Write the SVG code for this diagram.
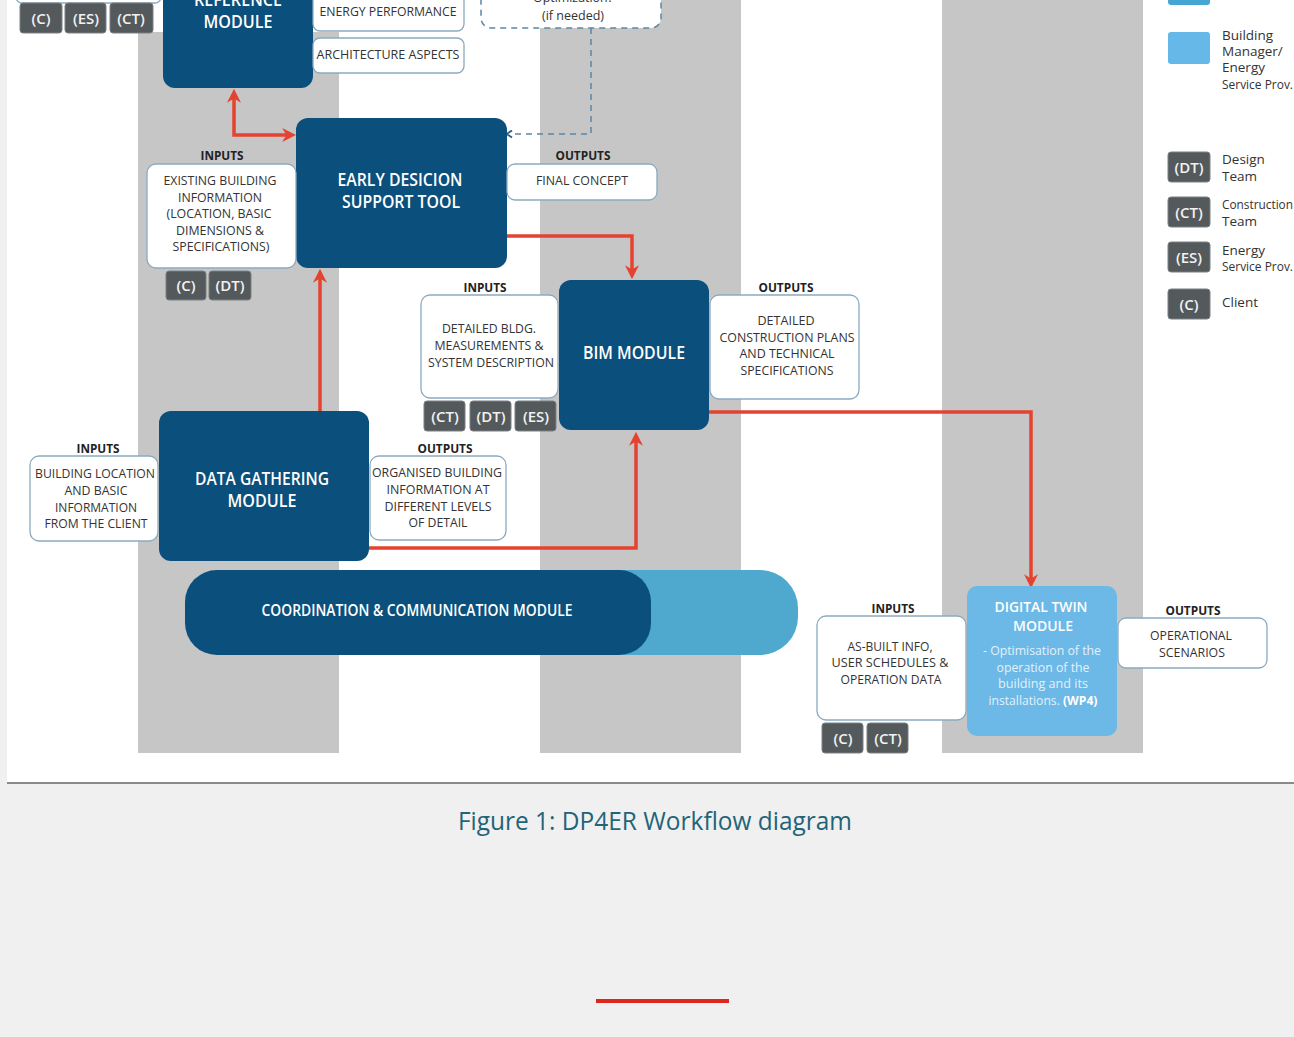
<svg xmlns="http://www.w3.org/2000/svg" width="1294" height="1037" viewBox="0 0 1294 1037">
<style>
.t{font-family:"Open Sans","Liberation Sans",sans-serif;}
.mod{font-family:"Open Sans","Liberation Sans",sans-serif;font-weight:600;fill:#ffffff;text-anchor:middle;}
.bx{fill:#ffffff;stroke:#8aaabf;stroke-width:1.3;}
.bt{font-family:"Open Sans","Liberation Sans",sans-serif;font-size:12.5px;fill:#333333;text-anchor:middle;}
.lab{font-family:"Open Sans","Liberation Sans",sans-serif;font-size:13px;font-weight:700;fill:#222222;text-anchor:middle;}
.bd{fill:#54595c;stroke:#7b8184;stroke-width:1;}
.bdt{font-family:"Open Sans","Liberation Sans",sans-serif;font-size:15px;font-weight:600;fill:#f2f2f2;text-anchor:middle;}
.dark{fill:#0b4f7c;}
.leg{font-family:"Open Sans","Liberation Sans",sans-serif;font-size:13.5px;fill:#333333;}
.red{fill:none;stroke:#e5432f;stroke-width:3.5;}
.stripe{fill:#c6c6c6;}
</style>
<defs>
<marker id="ar" viewBox="0 0 10 10" refX="7" refY="5" markerWidth="4" markerHeight="4" orient="auto-start-reverse">
<path d="M0,0 L10,5 L0,10 L3,5 z" fill="#e5432f"/>
</marker>
<marker id="dar" viewBox="0 0 10 10" refX="2" refY="5" markerWidth="6" markerHeight="6" orient="auto">
<path d="M2,1 L8,5 L2,9" fill="none" stroke="#2c5d84" stroke-width="2"/>
</marker>
</defs>
<rect x="0" y="0" width="1294" height="1037" fill="#f0f0f0"/>
<rect x="7" y="0" width="1287" height="783" fill="#ffffff"/>
<rect x="7" y="782" width="1287" height="2" fill="#8a8a8a"/>
<g id="stripes">
<rect class="stripe" x="138" y="32" width="201" height="721"/>
<rect class="stripe" x="540" y="0" width="201" height="753"/>
<rect class="stripe" x="942" y="0" width="201" height="753"/>
</g>
<g id="top-left-box"><rect class="bx" x="16" y="-20" width="145" height="23" rx="6"/></g>
<g id="badges-top">
<rect class="bd" x="20" y="3" width="42" height="30" rx="3"/><text class="bdt" x="41" y="24">(C)</text>
<rect class="bd" x="65" y="3" width="41" height="30" rx="3"/><text class="bdt" x="86" y="24">(ES)</text>
<rect class="bd" x="110" y="3" width="43" height="30" rx="3"/><text class="bdt" x="131" y="24">(CT)</text>
</g>
<g id="connectors">
<path class="red" d="M234 93 V135 H292" marker-start="url(#ar)" marker-end="url(#ar)"/>
<path class="red" d="M507 236 H632 V275" marker-end="url(#ar)"/>
<path class="red" d="M320 411 V273" marker-end="url(#ar)"/>
<path class="red" d="M369 548 H636 V436" marker-end="url(#ar)"/>
<path class="red" d="M709 412 H1031 V584" marker-end="url(#ar)"/>
<path d="M591 28 V134 H512" fill="none" stroke="#5a86a6" stroke-width="1.5" stroke-dasharray="6 5" marker-end="url(#dar)"/>
</g>
<g id="reference-module">
<rect class="dark" x="163" y="-62" width="150" height="150" rx="12"/>
<text class="mod" x="238" y="6" font-size="18" textLength="88" lengthAdjust="spacingAndGlyphs">REFERENCE</text>
<text class="mod" x="238" y="28" font-size="18" textLength="69" lengthAdjust="spacingAndGlyphs">MODULE</text>
</g>
<g id="energy-performance">
<rect class="bx" x="313" y="-10" width="151" height="41" rx="7"/>
<text class="bt" x="388" y="16" textLength="137" lengthAdjust="spacingAndGlyphs">ENERGY PERFORMANCE</text>
</g>
<g id="architecture-aspects">
<rect class="bx" x="313" y="38" width="151" height="35" rx="7"/>
<text class="bt" x="388" y="59" textLength="143" lengthAdjust="spacingAndGlyphs">ARCHITECTURE ASPECTS</text>
</g>
<g id="optimization">
<rect x="481" y="-30" width="180" height="58" rx="10" fill="#ffffff" stroke="#5a86a6" stroke-width="1.5" stroke-dasharray="6 5"/>
<text class="bt" x="573" y="2" textLength="80" lengthAdjust="spacingAndGlyphs">Optimization?</text>
<text class="bt" x="573" y="20" textLength="62" lengthAdjust="spacingAndGlyphs">(if needed)</text>
</g>
<g id="early-decision">
<rect class="dark" x="296" y="118" width="211" height="150" rx="12"/>
<text class="mod" x="400" y="186" font-size="18" textLength="125" lengthAdjust="spacingAndGlyphs">EARLY DESICION</text>
<text class="mod" x="401" y="208" font-size="18" textLength="118" lengthAdjust="spacingAndGlyphs">SUPPORT TOOL</text>
</g>
<g id="early-inputs">
<text class="lab" x="222" y="160" textLength="43" lengthAdjust="spacingAndGlyphs">INPUTS</text>
<rect class="bx" x="147" y="164" width="149" height="104" rx="9"/>
<text class="bt" x="220" y="185" textLength="113" lengthAdjust="spacingAndGlyphs">EXISTING BUILDING</text>
<text class="bt" x="220" y="202" textLength="84" lengthAdjust="spacingAndGlyphs">INFORMATION</text>
<text class="bt" x="219" y="218" textLength="105" lengthAdjust="spacingAndGlyphs">(LOCATION, BASIC</text>
<text class="bt" x="220" y="235" textLength="88" lengthAdjust="spacingAndGlyphs">DIMENSIONS &amp;</text>
<text class="bt" x="221" y="251" textLength="97" lengthAdjust="spacingAndGlyphs">SPECIFICATIONS)</text>
<rect class="bd" x="166" y="271" width="40" height="29" rx="3"/><text class="bdt" x="186" y="291">(C)</text>
<rect class="bd" x="209" y="271" width="42" height="29" rx="3"/><text class="bdt" x="230" y="291">(DT)</text>
</g>
<g id="early-outputs">
<text class="lab" x="583" y="160" textLength="55" lengthAdjust="spacingAndGlyphs">OUTPUTS</text>
<rect class="bx" x="507" y="164" width="150" height="36" rx="8"/>
<text class="bt" x="582" y="185" textLength="92" lengthAdjust="spacingAndGlyphs">FINAL CONCEPT</text>
</g>
<g id="bim-module">
<rect class="dark" x="559" y="280" width="150" height="150" rx="12"/>
<text class="mod" x="634" y="359" font-size="18" textLength="102" lengthAdjust="spacingAndGlyphs">BIM MODULE</text>
</g>
<g id="bim-inputs">
<text class="lab" x="485" y="292" textLength="43" lengthAdjust="spacingAndGlyphs">INPUTS</text>
<rect class="bx" x="421" y="295" width="137" height="103" rx="9"/>
<text class="bt" x="489" y="333" textLength="94" lengthAdjust="spacingAndGlyphs">DETAILED BLDG.</text>
<text class="bt" x="489" y="350" textLength="109" lengthAdjust="spacingAndGlyphs">MEASUREMENTS &amp;</text>
<text class="bt" x="491" y="367" textLength="126" lengthAdjust="spacingAndGlyphs">SYSTEM DESCRIPTION</text>
<rect class="bd" x="424" y="401" width="41" height="30" rx="3"/><text class="bdt" x="445" y="422">(CT)</text>
<rect class="bd" x="470" y="401" width="41" height="30" rx="3"/><text class="bdt" x="491" y="422">(DT)</text>
<rect class="bd" x="515" y="401" width="41" height="30" rx="3"/><text class="bdt" x="536" y="422">(ES)</text>
</g>
<g id="bim-outputs">
<text class="lab" x="786" y="292" textLength="55" lengthAdjust="spacingAndGlyphs">OUTPUTS</text>
<rect class="bx" x="710" y="295" width="149" height="104" rx="9"/>
<text class="bt" x="786" y="325" textLength="57" lengthAdjust="spacingAndGlyphs">DETAILED</text>
<text class="bt" x="787" y="342" textLength="135" lengthAdjust="spacingAndGlyphs">CONSTRUCTION PLANS</text>
<text class="bt" x="787" y="358" textLength="95" lengthAdjust="spacingAndGlyphs">AND TECHNICAL</text>
<text class="bt" x="787" y="375" textLength="93" lengthAdjust="spacingAndGlyphs">SPECIFICATIONS</text>
</g>
<g id="data-gathering">
<rect class="dark" x="159" y="411" width="210" height="150" rx="12"/>
<text class="mod" x="262" y="485" font-size="18" textLength="134" lengthAdjust="spacingAndGlyphs">DATA GATHERING</text>
<text class="mod" x="262" y="507" font-size="18" textLength="69" lengthAdjust="spacingAndGlyphs">MODULE</text>
</g>
<g id="data-inputs">
<text class="lab" x="98" y="453" textLength="43" lengthAdjust="spacingAndGlyphs">INPUTS</text>
<rect class="bx" x="30" y="456" width="128" height="85" rx="9"/>
<text class="bt" x="95" y="478" textLength="120" lengthAdjust="spacingAndGlyphs">BUILDING LOCATION</text>
<text class="bt" x="96" y="495" textLength="63" lengthAdjust="spacingAndGlyphs">AND BASIC</text>
<text class="bt" x="96" y="512" textLength="82" lengthAdjust="spacingAndGlyphs">INFORMATION</text>
<text class="bt" x="96" y="528" textLength="103" lengthAdjust="spacingAndGlyphs">FROM THE CLIENT</text>
</g>
<g id="data-outputs">
<text class="lab" x="445" y="453" textLength="55" lengthAdjust="spacingAndGlyphs">OUTPUTS</text>
<rect class="bx" x="370" y="456" width="136" height="84" rx="9"/>
<text class="bt" x="437" y="477" textLength="130" lengthAdjust="spacingAndGlyphs">ORGANISED BUILDING</text>
<text class="bt" x="438" y="494" textLength="103" lengthAdjust="spacingAndGlyphs">INFORMATION  AT</text>
<text class="bt" x="438" y="511" textLength="107" lengthAdjust="spacingAndGlyphs">DIFFERENT LEVELS</text>
<text class="bt" x="438" y="527" textLength="59" lengthAdjust="spacingAndGlyphs">OF DETAIL</text>
</g>
<g id="coordination-module">
<rect x="185" y="570" width="613" height="85" rx="38" fill="#4fa9cf"/>
<rect class="dark" x="185" y="570" width="466" height="85" rx="32"/>
<text class="mod" x="417" y="616" font-size="15.5" textLength="311" lengthAdjust="spacingAndGlyphs">COORDINATION &amp; COMMUNICATION MODULE</text>
</g>
<g id="digital-twin">
<rect x="967" y="586" width="150" height="150" rx="10" fill="#6cb8e6"/>
<text class="mod" x="1041" y="612" font-size="15" fill="#eef6fc" textLength="93" lengthAdjust="spacingAndGlyphs">DIGITAL TWIN</text>
<text class="mod" x="1043" y="631" font-size="15" textLength="60" lengthAdjust="spacingAndGlyphs">MODULE</text>
<text class="t" x="1042" y="655" font-size="12.5" fill="#e3f1fb" text-anchor="middle" textLength="118" lengthAdjust="spacingAndGlyphs">- Optimisation of the</text>
<text class="t" x="1043" y="672" font-size="12.5" fill="#e3f1fb" text-anchor="middle" textLength="93" lengthAdjust="spacingAndGlyphs">operation of the</text>
<text class="t" x="1043" y="688" font-size="12.5" fill="#e3f1fb" text-anchor="middle" textLength="90" lengthAdjust="spacingAndGlyphs">building and its</text>
<text class="t" x="1043" y="705" font-size="12.5" fill="#e3f1fb" text-anchor="middle" textLength="109" lengthAdjust="spacingAndGlyphs">installations. <tspan font-weight="700" fill="#ffffff">(WP4)</tspan></text>
</g>
<g id="dt-inputs">
<text class="lab" x="893" y="613" textLength="43" lengthAdjust="spacingAndGlyphs">INPUTS</text>
<rect class="bx" x="817" y="616" width="149" height="104" rx="9"/>
<text class="bt" x="890" y="651" textLength="85" lengthAdjust="spacingAndGlyphs">AS-BUILT INFO,</text>
<text class="bt" x="890" y="667" textLength="117" lengthAdjust="spacingAndGlyphs">USER  SCHEDULES &amp;</text>
<text class="bt" x="891" y="684" textLength="101" lengthAdjust="spacingAndGlyphs">OPERATION DATA</text>
<rect class="bd" x="822" y="723" width="41" height="30" rx="3"/><text class="bdt" x="843" y="744">(C)</text>
<rect class="bd" x="867" y="723" width="41" height="30" rx="3"/><text class="bdt" x="888" y="744">(CT)</text>
</g>
<g id="dt-outputs">
<text class="lab" x="1193" y="615" textLength="55" lengthAdjust="spacingAndGlyphs">OUTPUTS</text>
<rect class="bx" x="1118" y="618" width="149" height="50" rx="8"/>
<text class="bt" x="1191" y="640" textLength="82" lengthAdjust="spacingAndGlyphs">OPERATIONAL</text>
<text class="bt" x="1192" y="657" textLength="66" lengthAdjust="spacingAndGlyphs">SCENARIOS</text>
</g>
<g id="legend">
<rect x="1168" y="-25" width="42" height="30" rx="3" fill="#45a6d4"/>
<rect x="1168" y="32" width="42" height="32" rx="3" fill="#66b8e8"/>
<text class="leg" x="1222" y="40">Building</text>
<text class="leg" x="1222" y="56">Manager/</text>
<text class="leg" x="1222" y="72">Energy</text>
<text class="leg" x="1222" y="89" textLength="71" lengthAdjust="spacingAndGlyphs">Service Prov.</text>
<rect class="bd" x="1168" y="152" width="42" height="30" rx="3"/><text class="bdt" x="1189" y="173">(DT)</text>
<text class="leg" x="1222" y="164">Design</text>
<text class="leg" x="1222" y="181">Team</text>
<rect class="bd" x="1168" y="197" width="42" height="30" rx="3"/><text class="bdt" x="1189" y="218">(CT)</text>
<text class="leg" x="1222" y="209" textLength="71" lengthAdjust="spacingAndGlyphs">Construction</text>
<text class="leg" x="1222" y="226">Team</text>
<rect class="bd" x="1168" y="242" width="42" height="30" rx="3"/><text class="bdt" x="1189" y="263">(ES)</text>
<text class="leg" x="1222" y="255">Energy</text>
<text class="leg" x="1222" y="271" textLength="71" lengthAdjust="spacingAndGlyphs">Service Prov.</text>
<rect class="bd" x="1168" y="289" width="42" height="30" rx="3"/><text class="bdt" x="1189" y="310">(C)</text>
<text class="leg" x="1222" y="307">Client</text>
</g>
<text class="t" x="655" y="830" font-size="25" fill="#1f6479" text-anchor="middle" textLength="394" lengthAdjust="spacingAndGlyphs">Figure 1: DP4ER Workflow diagram</text>
<rect x="596" y="999" width="133" height="4" fill="#e0261c"/>
</svg>
